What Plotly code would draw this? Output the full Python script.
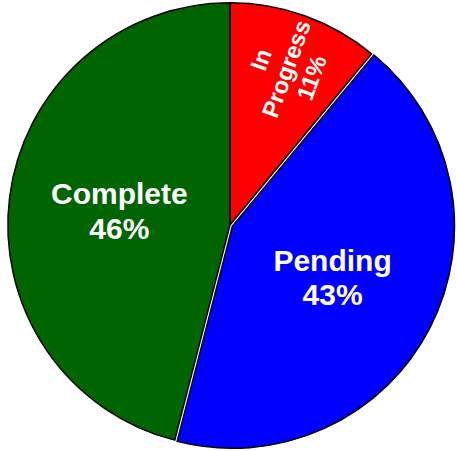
import plotly.graph_objects as go

labels = ["In<br>Progress", "Pending", "Complete"]
values = [11, 43, 46]
colors = ["#FF0000", "#0000FF", "#006400"]
pulls = [0, 0.012, 0]

fig = go.Figure(go.Pie(
    labels=labels,
    values=values,
    sort=False,
    direction="clockwise",
    rotation=0,
    pull=pulls,
    marker=dict(colors=colors, line=dict(color="black", width=1.5)),
    texttemplate="<span style='font-size:30px'>%{label}<br>%{percent:.0%}</span>",
    textposition="inside",
    insidetextorientation="auto",
    textfont=dict(family="Liberation Sans, Arial, sans-serif", size=26.5, color="white", weight="bold"),
    showlegend=False,
    hoverinfo="label+percent",
    domain=dict(x=[0.0114, 0.9952], y=[0.0027, 0.9996]),
))

fig.update_layout(
    width=457, height=451,
    margin=dict(l=0, r=0, t=0, b=0),
    paper_bgcolor="white",
    plot_bgcolor="white",
)

fig.write_html(
    "out.html",
    config={"displayModeBar": False},
    post_script="document.body.style.margin='0';document.body.style.padding='0';",
)
